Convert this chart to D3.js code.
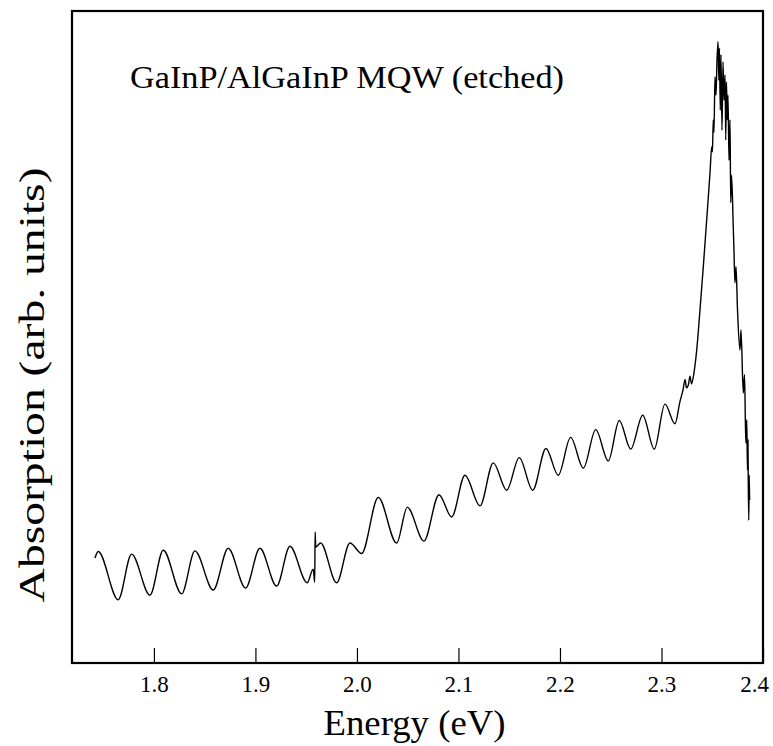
<!DOCTYPE html>
<html>
<head>
<meta charset="utf-8">
<script src="https://cdn.jsdelivr.net/npm/d3@7"></script>
<style>
  body { margin: 0; background: #fff; }
  text { font-family: "Liberation Serif", "Times New Roman", serif; fill: #000; }
</style>
</head>
<body>
<svg id="chart"></svg>
<script>
// data (energy in eV, absorption in arb. units)
const energy = [
  1.7419, 1.7451, 1.7648, 1.7780, 1.7961, 1.8092, 1.8273, 1.8404, 1.8584, 1.8732,
  1.8903, 1.9044, 1.9209, 1.9340, 1.9510, 1.9569, 1.9584, 1.9588, 1.9594, 1.9642,
  1.9800, 1.9931, 2.0046, 2.0210, 2.0391, 2.0496, 2.0660, 2.0808, 2.0933, 2.1064,
  2.1212, 2.1343, 2.1475, 2.1599, 2.1731, 2.1862, 2.1983, 2.2105, 2.2230, 2.2352,
  2.2476, 2.2584, 2.2697, 2.2815, 2.2929, 2.3034, 2.3133, 2.3182, 2.3212, 2.3232,
  2.3246, 2.3264, 2.3281, 2.3296, 2.3320, 2.3347, 2.3379, 2.3412, 2.3445, 2.3478,
  2.3495, 2.3502, 2.3510, 2.3517, 2.3527, 2.3537, 2.3547, 2.3557, 2.3565, 2.3571,
  2.3579, 2.3586, 2.3596, 2.3606, 2.3616, 2.3626, 2.3633, 2.3640, 2.3648, 2.3655,
  2.3665, 2.3675, 2.3682, 2.3690, 2.3707, 2.3714, 2.3724, 2.3734, 2.3749, 2.3773,
  2.3783, 2.3806, 2.3818, 2.3828, 2.3833, 2.3840, 2.3847, 2.3852, 2.3855, 2.3860,
  2.3864, 2.3868
];
const absorption = [
  0.161, 0.171, 0.097, 0.167, 0.104, 0.173, 0.106, 0.172, 0.112, 0.176,
  0.115, 0.176, 0.118, 0.179, 0.123, 0.144, 0.124, 0.201, 0.178, 0.184,
  0.123, 0.184, 0.168, 0.254, 0.184, 0.239, 0.187, 0.258, 0.224, 0.288,
  0.241, 0.307, 0.265, 0.315, 0.265, 0.329, 0.288, 0.346, 0.299, 0.358,
  0.310, 0.372, 0.328, 0.380, 0.328, 0.397, 0.367, 0.401, 0.419, 0.435,
  0.422, 0.426, 0.440, 0.428, 0.445, 0.480, 0.541, 0.608, 0.679, 0.752,
  0.792, 0.784, 0.833, 0.814, 0.899, 0.871, 0.925, 0.953, 0.894, 0.943,
  0.848, 0.933, 0.817, 0.922, 0.863, 0.902, 0.802, 0.891, 0.833, 0.871,
  0.771, 0.833, 0.706, 0.748, 0.669, 0.633, 0.583, 0.608, 0.541, 0.480,
  0.511, 0.414, 0.442, 0.357, 0.337, 0.373, 0.296, 0.342, 0.276, 0.219,
  0.288, 0.250
];
const xTicks = [1.8, 1.9, 2.0, 2.1, 2.2, 2.3, 2.4];
const title = "GaInP/AlGaInP MQW (etched)";

const serif = '"Liberation Serif", "Times New Roman", serif';
const width = 773, height = 746;
const margin = {top: 11, right: 10, bottom: 83, left: 72};
const innerW = width - margin.left - margin.right;
const innerH = height - margin.top - margin.bottom;

const svg = d3.select('#chart')
    .attr('width', width)
    .attr('height', height);
const g = svg.append('g')
    .attr('transform', 'translate(' + margin.left + ',' + margin.top + ')');

const x = d3.scaleLinear().domain([1.7193, 2.4]).range([0, innerW]);
const y = d3.scaleLinear().domain([0, 1]).range([innerH, 0]);

const data = energy.map((e, i) => ({e: e, a: absorption[i]}));

// curve
g.append('path')
    .datum(data)
    .attr('fill', 'none')
    .attr('stroke', '#000')
    .attr('stroke-width', 1.4)
    .attr('stroke-linejoin', 'round')
    .attr('d', d3.line()
        .x(d => x(d.e))
        .y(d => y(d.a))
        .curve(d3.curveMonotoneX));

// bottom axis, ticks pointing inward
const xAxis = g.append('g')
    .attr('transform', 'translate(0,' + innerH + ')')
    .call(d3.axisBottom(x).tickValues(xTicks).tickFormat(d3.format('.1f'))
        .tickSizeInner(-15).tickSizeOuter(0));
xAxis.select('.domain').remove();
xAxis.selectAll('line').attr('stroke', '#000').attr('stroke-width', 1.2);
xAxis.selectAll('text')
    .style('font-family', serif)
    .attr('font-size', 23)
    .attr('dy', 0)
    .attr('y', 29)
    // last label is pulled in so it stays inside the page
    .attr('dx', d => d === 2.4 ? -9 : 0);

// frame
g.append('rect')
    .attr('width', innerW)
    .attr('height', innerH)
    .attr('fill', 'none')
    .attr('stroke', '#000')
    .attr('stroke-width', 2.2);

// labels
svg.append('text')
    .style('font-family', serif)
    .attr('x', margin.left + innerW / 2 - 3)
    .attr('y', 735)
    .attr('text-anchor', 'middle')
    .attr('font-size', 35)
    .attr('textLength', 182)
    .attr('lengthAdjust', 'spacingAndGlyphs')
    .text('Energy (eV)');

svg.append('text')
    .style('font-family', serif)
    .attr('transform', 'translate(44,385) rotate(-90)')
    .attr('text-anchor', 'middle')
    .attr('font-size', 35)
    .attr('textLength', 435)
    .attr('lengthAdjust', 'spacingAndGlyphs')
    .text('Absorption (arb. units)');

svg.append('text')
    .style('font-family', serif)
    .attr('x', 130)
    .attr('y', 88)
    .attr('font-size', 31)
    .attr('textLength', 434)
    .attr('lengthAdjust', 'spacingAndGlyphs')
    .text(title);
</script>
</body>
</html>
